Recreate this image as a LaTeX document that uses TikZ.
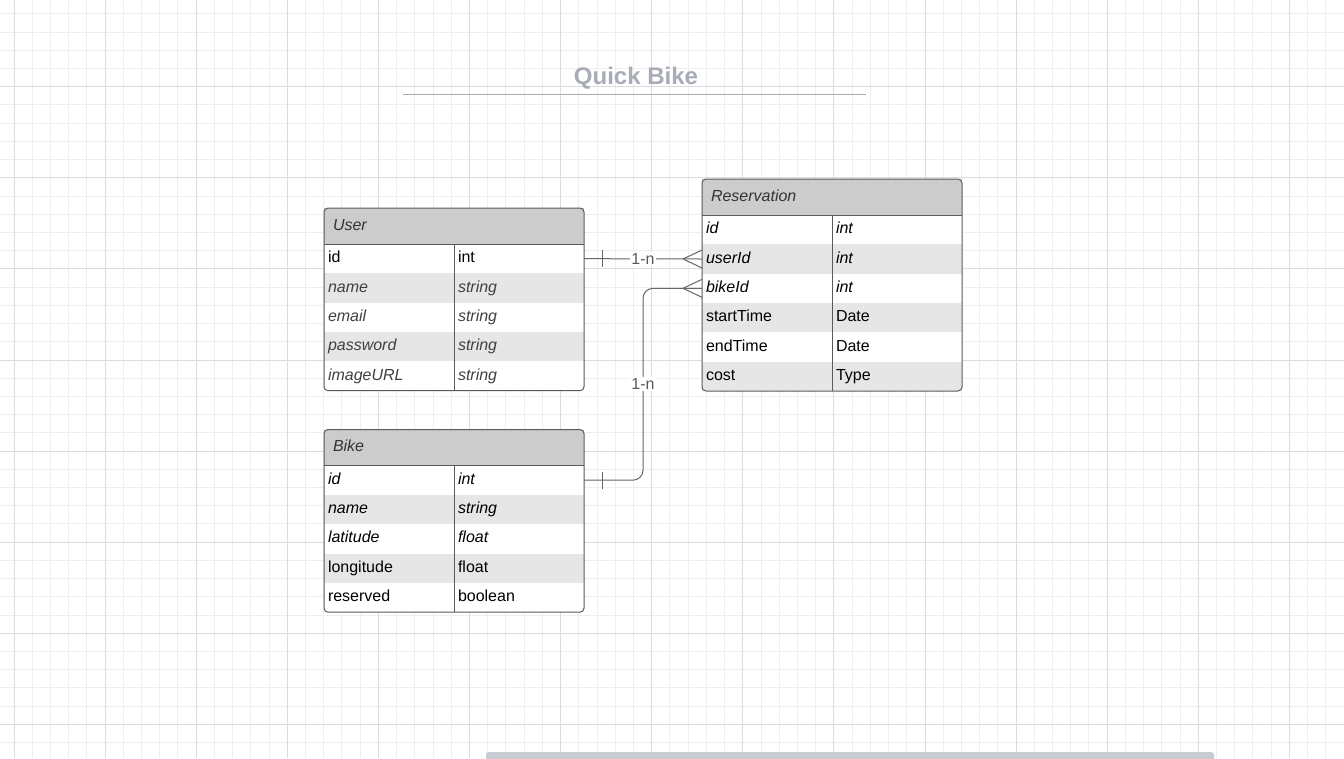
\documentclass[tikz,border=0pt]{standalone}
\usepackage{fontspec}
\setmainfont{Liberation Sans}
\usetikzlibrary{
	positioning,
	calc
}
\definecolor{gridminor}{HTML}{EEEEEE}
\definecolor{gridmajor}{HTML}{DCDCDC}
\definecolor{headgray}{HTML}{CCCCCC}
\definecolor{rowgray}{HTML}{E6E6E6}
\definecolor{edgegray}{HTML}{5A5A5A}
\definecolor{titlegray}{HTML}{A8ACB7}
\definecolor{bargray}{HTML}{C8CBD1}

\begin{document}
\begin{tikzpicture}[
	x = 0.75pt, y = -0.75pt,
	node distance = 0pt and 0pt,
	font = \fontsize{12pt}{14pt}\selectfont,
	header/.style = {
		anchor=north west, fill=headgray, outer sep=0pt,
		text width=181.5pt, inner xsep=6.75pt, inner ysep=0pt,
		minimum height=27pt, text height=9pt, text depth=3pt,
		align=left, font=\fontsize{12pt}{14pt}\selectfont\itshape, text=black!80
	},
	keycell/.style = {
		fill=white, outer sep=0pt, text width=91.5pt, inner xsep=3pt, inner ysep=0pt,
		minimum height=22pt, text height=9pt, text depth=3pt, align=left
	},
	shaded/.style = {fill=rowgray},
	ital/.style = {font=\fontsize{12pt}{14pt}\selectfont\itshape},
	faded/.style = {ital, text=black!75},
	tableline/.style = {draw=edgegray, line width=0.75pt},
	conn/.style = {draw=black!60, line width=0.75pt},
	cardinality/.style = {fill=white, inner sep=1pt, text=black!65}
]

	% page and grid
	\path[use as bounding box] (0,0) rectangle (1344,758);
	\fill[white] (0,0) rectangle (1344,758);
	\foreach \k in {0,...,73}
		\draw[gridminor, line width=0.75pt] ({14+18.22*\k},0) -- ({14+18.22*\k},758);
	\foreach \k in {1,...,41}
		\draw[gridminor, line width=0.75pt] (0,{-4.4+18.22*\k}) -- (1344,{-4.4+18.22*\k});
	\foreach \k in {0,5,...,70}
		\draw[gridmajor, line width=0.75pt] ({14+18.22*\k},0) -- ({14+18.22*\k},758);
	\foreach \k in {5,10,...,40}
		\draw[gridmajor, line width=0.75pt] (0,{-4.4+18.22*\k}) -- (1344,{-4.4+18.22*\k});

	% title
	\node (title) [text=titlegray, font=\fontsize{18pt}{20pt}\selectfont\bfseries] at (636,78.5) {Quick Bike};
	\draw[titlegray, line width=1.4pt] (403,94.5) -- (866,94.5);

	% User
	\node (user) [header] at (324,208) {User};
		\node (u1) [keycell, below right=of user.south west] {id};
		\node (u1t) [keycell, right=of u1] {int};
		\node (u2) [keycell, shaded, faded, below=of u1] {name};
		\node (u2t) [keycell, shaded, faded, right=of u2] {string};
		\node (u3) [keycell, faded, below=of u2] {email};
		\node (u3t) [keycell, faded, right=of u3] {string};
		\node (u4) [keycell, shaded, faded, below=of u3] {password};
		\node (u4t) [keycell, shaded, faded, right=of u4] {string};
		\node (u5) [keycell, faded, below=of u4] {imageURL};
		\node (u5t) [keycell, faded, right=of u5] {string};
	\draw[tableline, rounded corners=3pt] (user.north west) rectangle (u5t.south east);
	\draw[tableline] (user.south west) -- (user.south east);
	\draw[tableline] (u1.north east) -- (u5.south east);

	% Reservation
	\node (resv) [header] at (702,179) {Reservation};
		\node (r1) [keycell, ital, below right=of resv.south west] {id};
		\node (r1t) [keycell, ital, right=of r1] {int};
		\node (r2) [keycell, shaded, ital, below=of r1] {userId};
		\node (r2t) [keycell, shaded, ital, right=of r2] {int};
		\node (r3) [keycell, ital, below=of r2] {bikeId};
		\node (r3t) [keycell, ital, right=of r3] {int};
		\node (r4) [keycell, shaded, below=of r3] {startTime};
		\node (r4t) [keycell, shaded, right=of r4] {Date};
		\node (r5) [keycell, below=of r4] {endTime};
		\node (r5t) [keycell, right=of r5] {Date};
		\node (r6) [keycell, shaded, below=of r5] {cost};
		\node (r6t) [keycell, shaded, right=of r6] {Type};
	\draw[tableline, rounded corners=3pt] (resv.north west) rectangle (r6t.south east);
	\draw[tableline] (resv.south west) -- (resv.south east);
	\draw[tableline] (r1.north east) -- (r6.south east);

	% Bike
	\node (bike) [header] at (324,429.5) {Bike};
		\node (b1) [keycell, ital, below right=of bike.south west] {id};
		\node (b1t) [keycell, ital, right=of b1] {int};
		\node (b2) [keycell, shaded, ital, below=of b1] {name};
		\node (b2t) [keycell, shaded, ital, right=of b2] {string};
		\node (b3) [keycell, ital, below=of b2] {latitude};
		\node (b3t) [keycell, ital, right=of b3] {float};
		\node (b4) [keycell, shaded, below=of b3] {longitude};
		\node (b4t) [keycell, shaded, right=of b4] {float};
		\node (b5) [keycell, below=of b4] {reserved};
		\node (b5t) [keycell, right=of b5] {boolean};
	\draw[tableline, rounded corners=3pt] (bike.north west) rectangle (b5t.south east);
	\draw[tableline] (bike.south west) -- (bike.south east);
	\draw[tableline] (b1.north east) -- (b5.south east);

	% User 1-n Reservation
	\draw[conn] (u1t.east) -- (r2.west)
		node [cardinality, midway] {1-n};
	\draw[conn] ([xshift=13.7pt, yshift=6.4pt]u1t.east) -- ([xshift=13.7pt, yshift=-6.4pt]u1t.east);
	\draw[conn] ([xshift=-14.25pt]r2.west) -- ([yshift=6.75pt]r2.west)
		([xshift=-14.25pt]r2.west) -- ([yshift=-6.75pt]r2.west);

	% Bike 1-n Reservation
	\coordinate (bend) at ($(b1t.east)!0.5!(r3.west)$);
	\draw[conn, rounded corners=7.5pt] (b1t.east) -| (bend) |- (r3.west);
	\node (bendlabel) [cardinality] at (bend) {1-n};
	\draw[conn] ([xshift=13.7pt, yshift=6.4pt]b1t.east) -- ([xshift=13.7pt, yshift=-6.4pt]b1t.east);
	\draw[conn] ([xshift=-14.25pt]r3.west) -- ([yshift=6.75pt]r3.west)
		([xshift=-14.25pt]r3.west) -- ([yshift=-6.75pt]r3.west);

	% scroll bar
	\fill[bargray, rounded corners=2pt] (486,752) rectangle (1214,762);
\end{tikzpicture}
\end{document}
